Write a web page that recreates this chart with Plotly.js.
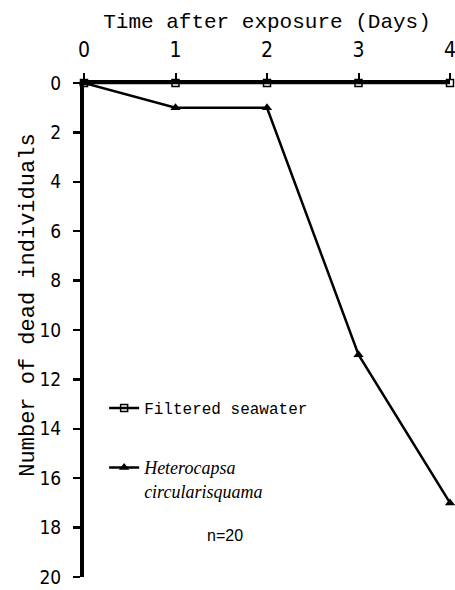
<!DOCTYPE html>
<html><head><meta charset="utf-8">
<script src="https://cdn.plot.ly/plotly-3.0.1.min.js"></script>
<style>body{margin:0;background:#fff}#chart{width:455px;height:590px}</style>
</head><body><div id="chart"></div>
<script>
const days = [0, 1, 2, 3, 4];
const filteredSeawater = [0, 0, 0, 0, 0];
const heterocapsa = [0, 1, 1, 11, 17];
const xTicks = [0, 1, 2, 3, 4];
const yTicks = [0, 2, 4, 6, 8, 10, 12, 14, 16, 18, 20];

const sansFont = "'Liberation Sans Narrow', 'DejaVu Sans Condensed', 'Liberation Sans', sans-serif";
const monoFont = "'Liberation Mono', 'DejaVu Sans Mono', monospace";

const traces = [
  {
    x: days, y: heterocapsa, mode: 'lines+markers', name: '<i>Heterocapsa</i><br><i>circularisquama</i>',
    line: {color: '#000', width: 2.5},
    marker: {symbol: 'triangle-up', size: 9, color: '#000'},
    cliponaxis: false, legend: 'legend2'
  },
  {
    x: days, y: filteredSeawater, mode: 'lines+markers', name: 'Filtered seawater',
    line: {color: '#000', width: 2.5},
    marker: {symbol: 'square-open', size: 7, color: '#000', line: {width: 1.5}},
    cliponaxis: false, legend: 'legend'
  }
];

const layout = {
  width: 455, height: 590,
  margin: {l: 84, r: 5, t: 83, b: 13},
  paper_bgcolor: '#fff', plot_bgcolor: '#fff',
  font: {family: sansFont, color: '#000', size: 18},
  showlegend: true,
  xaxis: {
    range: [0, 4], side: 'top', tickvals: xTicks, ticktext: xTicks.map(String),
    showgrid: false, zeroline: false, showline: true, linewidth: 3, linecolor: '#000',
    ticks: 'outside', ticklen: 7, tickwidth: 2, tickcolor: '#000',
    ticklabelstandoff: 8, ticklabeloverflow: 'allow',
    tickfont: {family: sansFont, size: 21},
    title: {text: 'Time after exposure (Days)', font: {family: monoFont, size: 21}, standoff: 4}
  },
  yaxis: {
    range: [20, 0], tickvals: yTicks, ticktext: yTicks.map(String),
    showgrid: false, zeroline: false, showline: true, linewidth: 4, linecolor: '#000',
    ticks: 'outside', ticklen: 7, tickwidth: 2.5, tickcolor: '#000',
    ticklabelstandoff: 8, ticklabeloverflow: 'allow',
    tickfont: {family: sansFont, size: 19}
  },
  legend: {
    x: 0.055, y: 0.342, xanchor: 'left', yanchor: 'middle',
    bgcolor: 'rgba(0,0,0,0)', font: {family: monoFont, size: 16},
    itemwidth: 30, tracegroupgap: 0
  },
  legend2: {
    x: 0.055, y: 0.198, xanchor: 'left', yanchor: 'middle', valign: 'top',
    bgcolor: 'rgba(0,0,0,0)', font: {family: "'Liberation Serif', serif", size: 18},
    itemwidth: 30
  },
  annotations: [
    {text: 'Number of dead individuals', textangle: -90, xref: 'paper', yref: 'paper',
     x: -0.152, y: 0.55, xanchor: 'center', yanchor: 'middle', showarrow: false,
     font: {family: monoFont, size: 22}},
    {text: 'n=20', xref: 'paper', yref: 'paper', x: 0.385, y: 0.063, showarrow: false,
     font: {family: "'Liberation Sans', sans-serif", size: 16}}
  ]
};

Plotly.newPlot('chart', traces, layout, {displayModeBar: false, staticPlot: true});
</script></body></html>
